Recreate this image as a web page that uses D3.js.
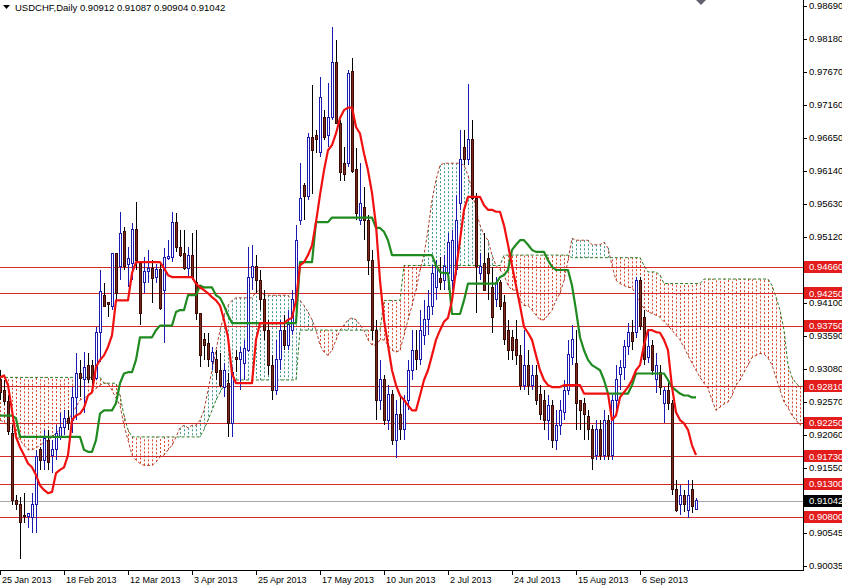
<!DOCTYPE html>
<html><head><meta charset="utf-8">
<script src="https://cdn.jsdelivr.net/npm/d3@7"></script>
<style>
html,body{margin:0;padding:0;background:#fff;}
svg{display:block;}
text{font-family:"Liberation Sans",Arial,sans-serif;}
</style></head>
<body>
<svg id="chart" width="842" height="586"></svg>
<script>
// ---------------- DATA ----------------
const symbolTitle = "USDCHF,Daily";
const lastBar = [0.90912, 0.91087, 0.90904, 0.91042];
const dateLabels = ["25 Jan 2013","18 Feb 2013","12 Mar 2013","3 Apr 2013","25 Apr 2013","17 May 2013","10 Jun 2013","2 Jul 2013","24 Jul 2013","15 Aug 2013","6 Sep 2013"];
const dateBarIndex = [0,16,32,48,64,80,96,112,128,144,160];
const priceTicks = [0.98690,0.98180,0.97670,0.97160,0.96650,0.96140,0.95630,0.95120,0.94100,0.93590,0.93080,0.92570,0.92060,0.91550,0.90545,0.90035];
const levels = [0.94660,0.94250,0.93750,0.92810,0.92250,0.91730,0.91300,0.90800];
const currentPrice = 0.91042;

const open = [
.9291,.9275,.9257,.9209,.9105,.9098,.9082,.9080,.9078,.9098,
.9183,.9167,.9198,.9175,.9183,.9203,.9217,.9232,.9229,.9264,
.9301,.9291,.9314,.9314,.9294,.9364,.9422,.9410,.9404,.9486,
.9466,.9520,.9469,.9471,.9523,.9471,.9441,.9458,.9464,.9450,
.9461,.9430,.9479,.9481,.9535,.9495,.9487,.9464,.9484,.9442,
.9394,.9353,.9348,.9319,.9322,.9306,.9280,.9286,.9224,.9325,
.9322,.9317,.9337,.9450,.9466,.9445,.9415,.9368,.9314,.9275,
.9322,.9368,.9345,.9368,.9415,.9538,.9592,.9574,.9666,.9669,
.9643,.9697,.9669,.9697,.9781,.9688,.9626,.9626,.9767,.9616,
.9538,.9558,.9538,.9476,.9368,.9260,.9291,.9229,.9268,.9198,
.9237,.9214,.9260,.9306,.9337,.9322,.9360,.9384,.9404,.9434,
.9448,.9445,.9456,.9445,.9461,.9564,.9651,.9631,.9662,.9572,
.9456,.9471,.9479,.9434,.9415,.9441,.9410,.9368,.9356,.9353,
.9329,.9283,.9314,.9283,.9298,.9268,.9260,.9229,.9252,.9198,
.9221,.9240,.9275,.9326,.9317,.9260,.9255,.9234,.9214,.9175,
.9214,.9175,.9229,.9175,.9260,.9299,.9311,.9342,.9364,.9364,
.9445,.9388,.9326,.9345,.9291,.9302,.9255,.9275,.9255,.9121,
.9098,.9113,.9090,.9121,0.90912];
const high = [
.9306,.9291,.9268,.9221,.9113,.9110,.9116,.9085,.9116,.9183,
.9187,.9214,.9214,.9198,.9221,.9240,.9244,.9244,.9280,.9332,
.9322,.9334,.9332,.9322,.9373,.9461,.9441,.9410,.9487,.9487,
.9551,.9527,.9496,.9533,.9566,.9471,.9481,.9492,.9476,.9471,
.9471,.9495,.9507,.9551,.9549,.9523,.9523,.9496,.9518,.9523,
.9394,.9364,.9364,.9342,.9337,.9332,.9317,.9302,.9311,.9337,
.9342,.9353,.9496,.9499,.9484,.9461,.9430,.9384,.9329,.9353,
.9384,.9391,.9399,.9430,.9530,.9626,.9595,.9673,.9747,.9677,
.9759,.9708,.9750,.9837,.9817,.9693,.9651,.9770,.9789,.9650,
.9626,.9589,.9546,.9492,.9384,.9322,.9299,.9283,.9275,.9260,
.9268,.9268,.9322,.9368,.9368,.9399,.9415,.9430,.9469,.9476,
.9481,.9484,.9518,.9523,.9577,.9677,.9677,.9748,.9693,.9580,
.9487,.9518,.9487,.9466,.9450,.9445,.9422,.9384,.9368,.9384,
.9345,.9368,.9337,.9314,.9314,.9283,.9275,.9268,.9260,.9244,
.9260,.9291,.9353,.9376,.9368,.9260,.9263,.9244,.9221,.9229,
.9229,.9244,.9237,.9268,.9314,.9322,.9353,.9379,.9384,.9450,
.9450,.9399,.9368,.9353,.9332,.9314,.9280,.9286,.9260,.9136,
.9128,.9121,.9136,.9136,0.91087];
const low = [
.9260,.9252,.9206,.9098,.9090,.9014,.9070,.9063,.9054,.9054,
.9152,.9152,.9152,.9148,.9167,.9198,.9206,.9214,.9209,.9229,
.9264,.9240,.9286,.9280,.9291,.9319,.9404,.9388,.9399,.9415,
.9445,.9461,.9434,.9445,.9461,.9376,.9425,.9441,.9410,.9441,
.9399,.9348,.9476,.9473,.9489,.9481,.9461,.9450,.9445,.9384,
.9311,.9322,.9311,.9306,.9291,.9280,.9264,.9203,.9203,.9303,
.9275,.9291,.9334,.9430,.9425,.9399,.9353,.9299,.9260,.9268,
.9306,.9337,.9337,.9360,.9399,.9530,.9538,.9569,.9579,.9642,
.9636,.9662,.9651,.9693,.9688,.9598,.9598,.9620,.9611,.9538,
.9530,.9507,.9453,.9353,.9229,.9244,.9221,.9214,.9190,.9170,
.9198,.9198,.9244,.9291,.9306,.9314,.9345,.9360,.9391,.9415,
.9430,.9430,.9430,.9430,.9453,.9554,.9623,.9623,.9569,.9394,
.9445,.9430,.9415,.9363,.9404,.9399,.9345,.9322,.9322,.9314,
.9275,.9275,.9268,.9275,.9252,.9229,.9214,.9198,.9186,.9183,
.9206,.9229,.9268,.9314,.9214,.9214,.9198,.9198,.9152,.9167,
.9167,.9167,.9167,.9167,.9244,.9275,.9291,.9330,.9337,.9356,
.9368,.9314,.9317,.9299,.9271,.9268,.9224,.9244,.9113,.9087,
.9082,.9087,.9078,.9085,0.90904];
const close = [
.9272,.9257,.9211,.9105,.9098,.9070,.9080,.9085,.9098,.9172,
.9167,.9201,.9164,.9183,.9209,.9217,.9232,.9224,.9264,.9301,
.9294,.9311,.9291,.9291,.9364,.9427,.9404,.9407,.9486,.9425,
.9518,.9466,.9479,.9523,.9476,.9394,.9458,.9464,.9448,.9462,
.9402,.9481,.9482,.9535,.9495,.9484,.9464,.9484,.9450,.9394,
.9329,.9345,.9322,.9333,.9303,.9283,.9306,.9224,.9302,.9322,
.9333,.9340,.9450,.9466,.9445,.9415,.9368,.9314,.9275,.9322,
.9368,.9345,.9376,.9415,.9507,.9572,.9574,.9666,.9646,.9662,
.9728,.9666,.9697,.9781,.9688,.9611,.9608,.9765,.9613,.9549,
.9564,.9538,.9476,.9368,.9260,.9291,.9229,.9268,.9198,.9237,
.9214,.9260,.9306,.9337,.9322,.9368,.9384,.9404,.9456,.9466,
.9441,.9466,.9503,.9507,.9538,.9631,.9631,.9662,.9572,.9466,
.9466,.9430,.9456,.9388,.9441,.9404,.9353,.9337,.9337,.9329,
.9283,.9314,.9283,.9298,.9260,.9237,.9229,.9252,.9198,.9221,
.9244,.9275,.9330,.9353,.9255,.9244,.9237,.9214,.9170,.9214,
.9175,.9229,.9175,.9260,.9291,.9310,.9342,.9364,.9350,.9445,
.9373,.9322,.9342,.9306,.9314,.9280,.9275,.9255,.9121,.9090,
.9113,.9098,.9113,.9095,0.91042];

const tenkan = [
.9295,.9298,.9283,.9244,.9203,.9187,.9175,.9162,.9156,.9144,
.9128,.9121,.9116,.9118,.9147,.9152,.9156,.9175,.9229,.9236,
.9239,.9248,.9267,.9272,.9311,.9322,.9329,.9342,.9360,.9414,
.9414,.9414,.9414,.9456,.9473,.9473,.9473,.9473,.9473,.9473,
.9473,.9464,.9453,.9450,.9450,.9450,.9450,.9450,.9450,.9440,
.9434,.9430,.9425,.9419,.9414,.9406,.9384,.9357,.9301,.9286,
.9286,.9286,.9286,.9286,.9353,.9379,.9379,.9379,.9379,.9379,
.9379,.9379,.9384,.9387,.9414,.9468,.9473,.9484,.9499,.9535,
.9577,.9615,.9646,.9654,.9672,.9696,.9708,.9712,.9712,.9682,
.9672,.9641,.9615,.9580,.9530,.9445,.9384,.9345,.9306,.9283,
.9267,.9260,.9252,.9244,.9244,.9267,.9291,.9306,.9329,.9353,
.9368,.9381,.9387,.9414,.9461,.9507,.9554,.9574,.9574,.9574,
.9574,.9561,.9554,.9554,.9551,.9551,.9530,.9500,.9468,.9437,
.9406,.9373,.9364,.9353,.9329,.9306,.9291,.9283,.9280,.9280,
.9280,.9283,.9283,.9283,.9283,.9283,.9270,.9270,.9270,.9270,
.9270,.9270,.9270,.9229,.9236,.9264,.9272,.9280,.9291,.9306,
.9314,.9345,.9368,.9368,.9365,.9364,.9353,.9337,.9280,.9241,
.9229,.9224,.9214,.9190,.9175];
const kijun = [
.9236,.9236,.9236,.9236,.9232,.9203,.9203,.9203,.9203,.9203,
.9203,.9203,.9203,.9203,.9203,.9203,.9203,.9203,.9203,.9203,
.9203,.9183,.9180,.9180,.9198,.9239,.9244,.9244,.9244,.9255,
.9286,.9301,.9303,.9303,.9322,.9357,.9357,.9357,.9357,.9368,
.9375,.9375,.9375,.9375,.9396,.9399,.9399,.9422,.9422,.9422,
.9437,.9434,.9434,.9434,.9422,.9418,.9406,.9391,.9379,.9379,
.9379,.9379,.9379,.9379,.9379,.9379,.9379,.9379,.9379,.9379,
.9379,.9379,.9379,.9379,.9379,.9473,.9473,.9473,.9473,.9535,
.9535,.9535,.9535,.9542,.9542,.9542,.9542,.9542,.9542,.9542,
.9542,.9542,.9542,.9542,.9526,.9526,.9520,.9507,.9484,.9484,
.9484,.9484,.9484,.9484,.9484,.9484,.9484,.9484,.9484,.9468,
.9458,.9456,.9456,.9393,.9393,.9393,.9414,.9440,.9440,.9440,
.9440,.9440,.9440,.9440,.9440,.9450,.9453,.9461,.9492,.9500,
.9507,.9507,.9500,.9492,.9489,.9489,.9489,.9476,.9466,.9461,
.9461,.9461,.9461,.9437,.9399,.9357,.9337,.9322,.9314,.9310,
.9306,.9291,.9270,.9270,.9270,.9270,.9270,.9270,.9283,.9301,
.9301,.9301,.9301,.9301,.9301,.9301,.9301,.9291,.9280,.9275,
.9270,.9267,.9267,.9264,.9264];
const spanA = [
.9229,.9226,.9221,.9214,.9206,.9198,.9190,.9183,.9183,.9186,
.9190,.9195,.9198,.9203,.9209,.9214,.9221,.9229,.9239,.9249,
.9260,.9263,.9267,.9272,.9278,.9283,.9286,.9286,.9275,.9263,
.9252,.9221,.9198,.9175,.9167,.9162,.9159,.9159,.9159,.9164,
.9172,.9175,.9183,.9190,.9203,.9217,.9221,.9217,.9221,.9221,
.9229,.9244,.9275,.9306,.9337,.9368,.9391,.9406,.9414,.9418,
.9418,.9418,.9418,.9418,.9427,.9430,.9422,.9422,.9422,.9422,
.9422,.9422,.9422,.9414,.9414,.9414,.9406,.9396,.9384,.9368,
.9345,.9334,.9329,.9337,.9353,.9368,.9376,.9384,.9387,.9384,
.9376,.9368,.9353,.9345,.9345,.9353,.9353,.9345,.9337,.9334,
.9337,.9360,.9384,.9406,.9430,.9461,.9484,.9523,.9569,.9600,
.9623,.9626,.9626,.9626,.9626,.9626,.9623,.9607,.9585,.9554,
.9530,.9515,.9507,.9484,.9468,.9461,.9453,.9437,.9430,.9430,
.9414,.9406,.9406,.9399,.9391,.9384,.9384,.9391,.9399,.9414,
.9425,.9445,.9476,.9510,.9507,.9507,.9507,.9507,.9500,.9500,
.9500,.9504,.9495,.9468,.9445,.9440,.9437,.9434,.9434,.9422,
.9410,.9402,.9396,.9394,.9391,.9388,.9381,.9375,.9368,.9360,
.9353,.9342,.9329,.9317,.9306,.9295,.9286,.9278,.9260,.9244,
.9249,.9254,.9257,.9267,.9283,.9291,.9303,.9314,.9326,.9329,
.9332,.9331,.9325,.9314,.9295,.9275,.9257,.9248,.9236,.9229,
.9221];
const spanB = [
.9295,.9295,.9295,.9295,.9295,.9295,.9295,.9295,.9295,.9295,
.9295,.9295,.9295,.9295,.9295,.9295,.9295,.9295,.9295,.9295,
.9295,.9295,.9295,.9295,.9295,.9295,.9286,.9286,.9286,.9286,
.9267,.9236,.9214,.9203,.9203,.9203,.9203,.9203,.9203,.9203,
.9203,.9203,.9203,.9203,.9203,.9203,.9203,.9203,.9203,.9203,
.9203,.9214,.9229,.9244,.9260,.9272,.9283,.9291,.9291,.9291,
.9291,.9291,.9291,.9291,.9291,.9291,.9291,.9291,.9291,.9291,
.9291,.9291,.9291,.9291,.9291,.9368,.9368,.9368,.9368,.9368,
.9368,.9368,.9368,.9368,.9368,.9368,.9368,.9368,.9368,.9368,
.9368,.9368,.9368,.9368,.9368,.9368,.9414,.9414,.9414,.9414,
.9414,.9468,.9468,.9468,.9468,.9468,.9468,.9468,.9468,.9468,
.9468,.9468,.9468,.9468,.9468,.9468,.9468,.9468,.9468,.9468,
.9468,.9468,.9468,.9468,.9468,.9468,.9484,.9484,.9484,.9484,
.9484,.9484,.9484,.9484,.9484,.9484,.9484,.9484,.9484,.9484,
.9484,.9484,.9484,.9480,.9480,.9480,.9480,.9480,.9480,.9480,
.9480,.9480,.9480,.9480,.9480,.9480,.9480,.9480,.9480,.9480,
.9480,.9468,.9458,.9458,.9458,.9453,.9440,.9440,.9440,.9440,
.9440,.9440,.9440,.9440,.9440,.9440,.9447,.9447,.9447,.9447,
.9447,.9447,.9447,.9447,.9447,.9447,.9447,.9447,.9447,.9447,
.9447,.9447,.9447,.9437,.9419,.9399,.9368,.9314,.9295,.9286,
.9280];

// ---------------- LAYOUT ----------------
const W = 842, H = 586;
const plotRight = 803, plotBottom = 570;
const svg = d3.select("#chart");
const x = d3.scaleLinear().domain([0, 200]).range([0, 800]);
const y = d3.scaleLinear().domain([0.90035, 0.98690]).range([566, 6]);

svg.append("defs").append("clipPath").attr("id","plotclip")
  .append("rect").attr("x",0).attr("y",0).attr("width",plotRight).attr("height",plotBottom);

const plot = svg.append("g").attr("clip-path","url(#plotclip)");

// Cloud hatching (vertical dotted lines per bar)
const cloudIdx = d3.range(spanA.length);
plot.append("g").selectAll("line").data(cloudIdx).join("line")
  .attr("x1", i => Math.round(x(i)) + 0.5).attr("x2", i => Math.round(x(i)) + 0.5)
  .attr("y1", i => y(spanA[i])).attr("y2", i => y(spanB[i]))
  .attr("stroke", i => spanA[i] >= spanB[i] ? "#3f9a8c" : "#d9472b")
  .attr("stroke-width", 1).attr("stroke-dasharray", "2,2");

const lineGen = arr => d3.line().x((d,i) => x(i)).y(d => y(d))(arr);
plot.append("path").attr("d", lineGen(spanA)).attr("fill","none")
  .attr("stroke","#b0402a").attr("stroke-width",1).attr("stroke-dasharray","3,2");
plot.append("path").attr("d", lineGen(spanB)).attr("fill","none")
  .attr("stroke","#2f7a22").attr("stroke-width",1).attr("stroke-dasharray","3,2");

// Horizontal levels
plot.append("g").selectAll("line").data(levels).join("line")
  .attr("x1",0).attr("x2",plotRight)
  .attr("y1", d => Math.round(y(d)) + 0.5).attr("y2", d => Math.round(y(d)) + 0.5)
  .attr("stroke","#d42a2a").attr("stroke-width",1);
plot.append("line").attr("x1",0).attr("x2",plotRight)
  .attr("y1", Math.round(y(currentPrice)) + 0.5).attr("y2", Math.round(y(currentPrice)) + 0.5)
  .attr("stroke","#a8a8a8").attr("stroke-width",1);

// Candles
const bars = d3.range(open.length);
const cg = plot.append("g").attr("shape-rendering","crispEdges");
cg.selectAll("line.wick").data(bars).join("line").attr("class","wick")
  .attr("x1", i => x(i) + 0.5).attr("x2", i => x(i) + 0.5)
  .attr("y1", i => y(high[i])).attr("y2", i => y(low[i]))
  .attr("stroke", i => close[i] >= open[i] ? "#1a1ab0" : "#000000").attr("stroke-width",1);
cg.selectAll("rect").data(bars).join("rect")
  .attr("x", i => x(i) - 1 + 0.5)
  .attr("width", 2)
  .attr("y", i => Math.min(y(open[i]), y(close[i])))
  .attr("height", i => Math.max(1, Math.abs(y(open[i]) - y(close[i]))))
  .attr("fill", i => close[i] >= open[i] ? "#ffffff" : "#7d2a1e")
  .attr("stroke", i => close[i] >= open[i] ? "#1a1ab0" : "#3a0a05")
  .attr("stroke-width",1);

// Tenkan & Kijun
plot.append("path").attr("d", lineGen(kijun)).attr("fill","none")
  .attr("stroke","#1f8a1f").attr("stroke-width",2.2).attr("stroke-linejoin","round");
plot.append("path").attr("d", lineGen(tenkan)).attr("fill","none")
  .attr("stroke","#f01010").attr("stroke-width",2.2).attr("stroke-linejoin","round");

// Axes frame
svg.append("line").attr("x1",plotRight+0.5).attr("x2",plotRight+0.5).attr("y1",0).attr("y2",plotBottom)
  .attr("stroke","#000").attr("stroke-width",1);
svg.append("line").attr("x1",0).attr("x2",plotRight+1).attr("y1",plotBottom+0.5).attr("y2",plotBottom+0.5)
  .attr("stroke","#000").attr("stroke-width",1);

// Right axis ticks
const rAxis = svg.append("g").attr("font-size","9.5px").attr("fill","#000");
rAxis.selectAll("line").data(priceTicks).join("line")
  .attr("x1",plotRight).attr("x2",plotRight+4)
  .attr("y1", d => Math.round(y(d))+0.5).attr("y2", d => Math.round(y(d))+0.5)
  .attr("stroke","#000");
rAxis.selectAll("text").data(priceTicks).join("text")
  .attr("x", plotRight+6).attr("y", d => y(d)).attr("dy","0.35em")
  .text(d => d.toFixed(5));

// Level labels
const lvG = svg.append("g").attr("font-size","9.5px");
lvG.selectAll("rect").data(levels).join("rect")
  .attr("x", plotRight+1).attr("width", W-plotRight-1)
  .attr("y", d => Math.round(y(d)) - 6).attr("height", 12).attr("fill","#e31c1c");
lvG.selectAll("text").data(levels).join("text")
  .attr("x", plotRight+6).attr("y", d => y(d)).attr("dy","0.35em").attr("fill","#fff")
  .text(d => d.toFixed(5));
svg.append("rect").attr("x",plotRight+1).attr("width",W-plotRight-1)
  .attr("y", Math.round(y(currentPrice)) - 6).attr("height",12).attr("fill","#000");
svg.append("text").attr("x",plotRight+6).attr("y",y(currentPrice)).attr("dy","0.35em")
  .attr("fill","#fff").attr("font-size","9.5px").text(currentPrice.toFixed(5));

// Bottom axis
const bAxis = svg.append("g").attr("font-size","9px");
bAxis.selectAll("line").data(dateBarIndex).join("line")
  .attr("x1", d => x(d)+0.5).attr("x2", d => x(d)+0.5)
  .attr("y1", plotBottom).attr("y2", plotBottom+5).attr("stroke","#000");
bAxis.selectAll("text").data(dateLabels).join("text")
  .attr("x", (d,i) => x(dateBarIndex[i]) + 2).attr("y", 583)
  .text(d => d);

// Title
svg.append("path").attr("d","M3,5 L10,5 L6.5,9 Z").attr("fill","#000");
svg.append("text").attr("x",15).attr("y",11).attr("font-size","9.5px")
  .text(symbolTitle + "  " + lastBar.map(v => v.toFixed(5)).join(" "));

// Chart shift marker
svg.append("path").attr("d","M696,0 L706,0 L701,5 Z").attr("fill","#606070");
</script>
</body></html>
